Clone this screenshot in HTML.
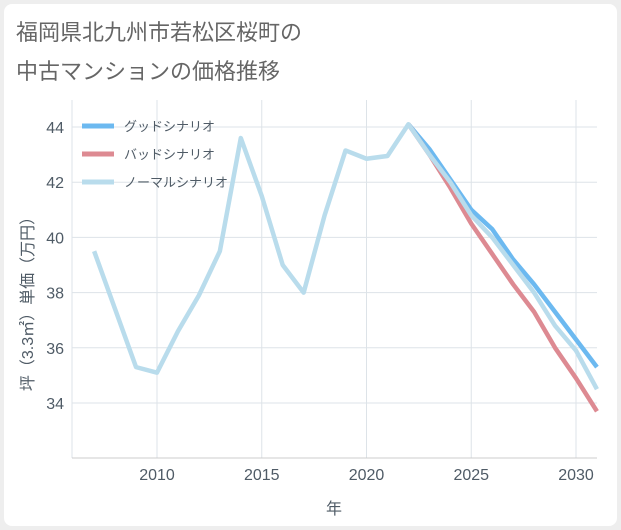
<!DOCTYPE html>
<html><head><meta charset="utf-8"><style>
body{margin:0;background:#eeeeee;font-family:"Liberation Sans","Noto Sans CJK JP",sans-serif;}
#card{position:absolute;left:4px;top:4px;width:613px;height:522px;background:#fff;border-radius:8px;}
.t{position:absolute;left:16px;color:#666;font-size:22px;}
</style></head><body>
<div id="card"></div>
<div class="t" style="top:15px">福岡県北九州市若松区桜町の</div>
<div class="t" style="top:54px">中古マンションの価格推移</div>
<svg id="chart" width="621" height="530" style="position:absolute;left:0;top:0"></svg>
<script>
const years=[2007,2008,2009,2010,2011,2012,2013,2014,2015,2016,2017,2018,2019,2020,2021,2022,2023,2024,2025,2026,2027,2028,2029,2030,2031];
const normal=[39.5,37.4,35.3,35.1,36.6,37.9,39.5,43.6,41.5,39.0,38.0,40.8,43.15,42.85,42.95,44.1,43.0,42.0,40.8,40.0,39.0,38.0,36.8,35.9,34.5];
const fYears=[2022,2023,2024,2025,2026,2027,2028,2029,2030,2031];
const good=[44.1,43.2,42.1,41.0,40.3,39.2,38.3,37.3,36.3,35.3];
const bad=[44.1,43.0,41.8,40.5,39.4,38.3,37.3,36.0,34.9,33.7];
const xTicks=[2010,2015,2020,2025,2030];
const yTicks=[34,36,38,40,42,44];
const legendLabels=["グッドシナリオ","バッドシナリオ","ノーマルシナリオ"];
const L=72,R=597,T=100,B=458;
const x=v=>157+(v-2010)*20.95;
const y=v=>127+(44-v)*27.6;
const svg=document.getElementById('chart');
const NS='http://www.w3.org/2000/svg';
const TC='#4f5b66';
function mk(tag,a,p){const e=document.createElementNS(NS,tag);for(const k in a)e.setAttribute(k,a[k]);(p||svg).appendChild(e);return e;}
yTicks.forEach(v=>{
 const g=mk('line',{x1:L,x2:R,y1:y(v),y2:y(v),stroke:'#dde3e8','stroke-width':1});
 
 
 const t=mk('text',{x:L-8,y:y(v)+6,'text-anchor':'end','font-size':16,fill:TC});
 t.textContent=v;
 
 
});
xTicks.forEach(v=>{
 const g=mk('line',{x1:x(v),x2:x(v),y1:T,y2:B,stroke:'#dde3e8','stroke-width':1});
 
 
 const t=mk('text',{x:x(v),y:B+22,'text-anchor':'middle','font-size':16,fill:TC});
 t.textContent=v;
 
 
});
const ay=mk('line',{x1:L,x2:L,y1:T,y2:B,stroke:'#dde3e8'});


const ax=mk('line',{x1:L,x2:R,y1:B,y2:B,stroke:'#ccc'});


const xt=mk('text',{x:334,y:514,'text-anchor':'middle','font-size':16,fill:TC});
xt.textContent='年';


const yt=mk('text',{x:0,y:0,'text-anchor':'middle','font-size':16,fill:TC,transform:'translate(33,300) rotate(-90)'});
yt.textContent='坪（3.3㎡）単価（万円）';


function line(xs,vs,color,name){
 const p=mk('polyline',{points:xs.map((v,i)=>x(v)+','+y(vs[i])).join(' '),fill:'none',stroke:color,'stroke-width':4.5,'stroke-linejoin':'round'});
 
 
}
line(fYears,good,'#6cb9f0','good-scenario-line');
line(fYears,bad,'#dd8a92','bad-scenario-line');
line(years,normal,'#b9dcec','normal-scenario-line');
const colors=['#6cb9f0','#dd8a92','#b9dcec'];
legendLabels.forEach((s,i)=>{
 const yy=126+i*28;
 const l=mk('line',{x1:82,x2:114,y1:yy,y2:yy,stroke:colors[i],'stroke-width':5});
 
 
 const t=mk('text',{x:124,y:yy+5,'font-size':13,fill:TC});
 t.textContent=s;
 
 
});
</script>
</body></html>
